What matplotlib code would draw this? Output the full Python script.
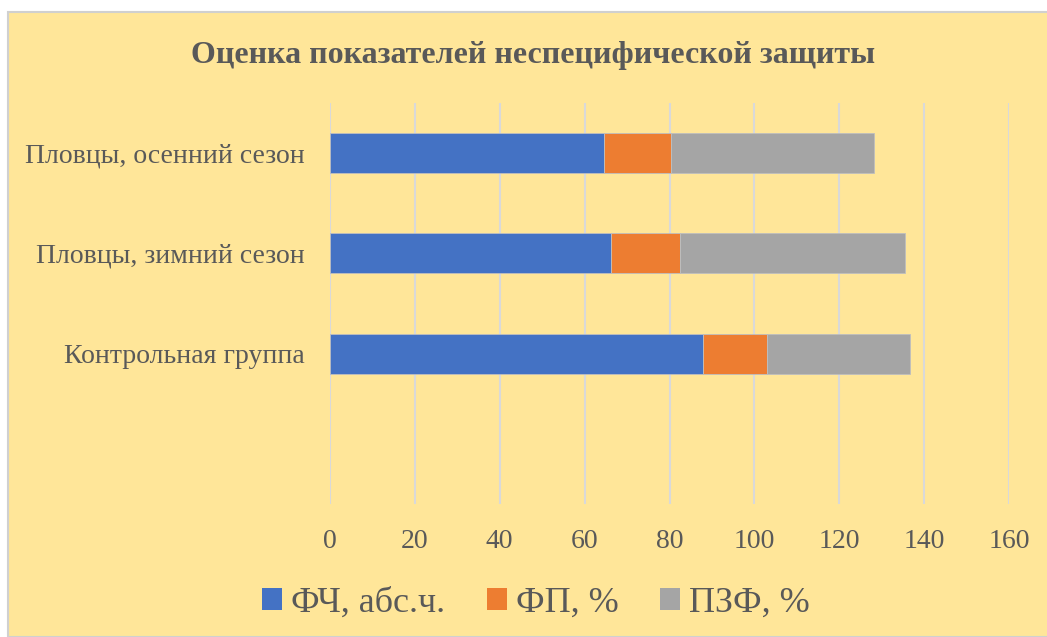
import matplotlib
matplotlib.use("Agg")
import matplotlib.pyplot as plt
from matplotlib.patches import Rectangle

# data (bottom slot is empty in the original chart)
categories = ["", "Контрольная группа", "Пловцы, зимний сезон", "Пловцы, осенний сезон"]
fch = [0, 88.0, 66.2, 64.6]
fp = [0, 15.0, 16.3, 15.7]
pzf = [0, 33.6, 53.1, 48.0]
series_names = ["ФЧ, абс.ч.", "ФП, %", "ПЗФ, %"]
x_ticks = [0, 20, 40, 60, 80, 100, 120, 140, 160]

colors = ["#4472C4", "#ED7D31", "#A5A5A5"]
bg = "#FFE699"
txt = "#595959"

plt.rcParams["font.family"] = ["Liberation Serif", "DejaVu Serif"]

fig = plt.figure(figsize=(10.47, 6.37), dpi=100)
fig.patch.set_facecolor("white")
# yellow chart panel with a thin grey border
fig.patches.append(Rectangle((8 / 1047, 0), 1.0, 1 - 12 / 637, transform=fig.transFigure,
                             facecolor=bg, edgecolor="#D0D0D0", linewidth=1.5, zorder=-5))

ax = fig.add_axes([330 / 1047, 1 - 504 / 637, 679 / 1047, 401 / 637])
ax.set_zorder(2)
ax.patch.set_alpha(0)

y = range(len(categories))
left = [0] * len(categories)
for vals, name, c in zip([fch, fp, pzf], series_names, colors):
    lw = [0.6 if v > 0 else 0 for v in vals]
    ax.barh(y, vals, left=left, height=0.4, color=c, label=name,
            edgecolor="#BFBFBF", linewidth=lw, zorder=3)
    left = [a + b for a, b in zip(left, vals)]

ax.set_xlim(0, 160)
ax.set_ylim(-0.5, len(categories) - 0.5)
ax.set_xticks(x_ticks)
ax.set_yticks(list(y))
ax.set_yticklabels(categories)
ax.tick_params(axis="both", length=0, labelsize=20, colors=txt)
ax.tick_params(axis="y", pad=18)
ax.tick_params(axis="x", pad=18)
ax.grid(axis="x", color="#D9D9D9", linewidth=1.5, zorder=0)
for s in ax.spines.values():
    s.set_visible(False)

fig.text(533 / 1047, 1 - 55 / 637, "Оценка показателей неспецифической защиты",
         ha="center", va="center", fontsize=23, fontweight="bold", color=txt)

fig.legend(loc="center", bbox_to_anchor=(536 / 1047, 1 - 603 / 637), ncol=3,
           frameon=False, fontsize=26, labelcolor=txt, handlelength=0.55,
           handleheight=0.55, handletextpad=0.25, columnspacing=1.15)

fig.savefig("out.png", dpi=100, facecolor=fig.get_facecolor())
